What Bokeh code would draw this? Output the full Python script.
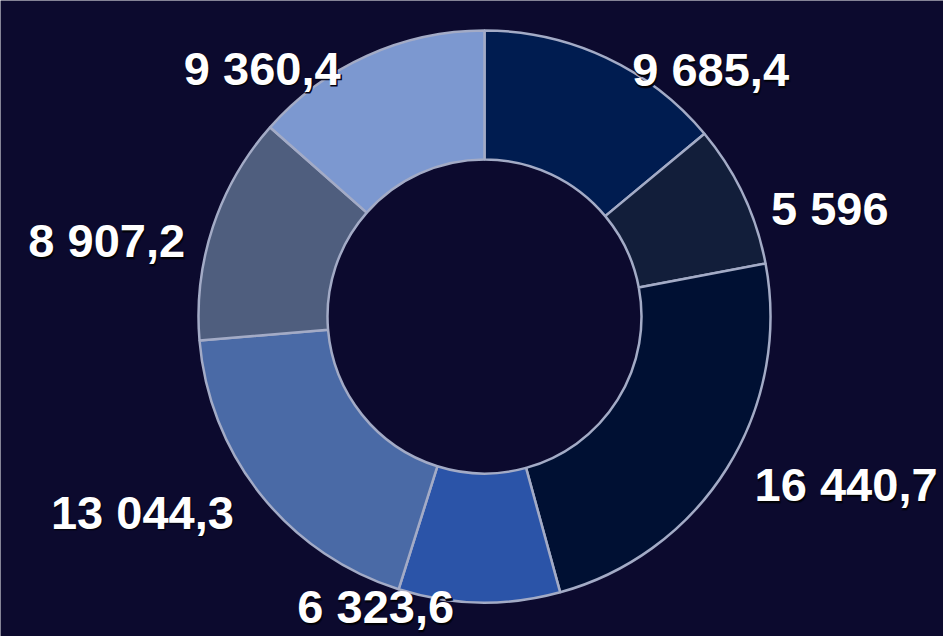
import math
from bokeh.plotting import figure
from bokeh.models import ColumnDataSource, Range1d
from bokeh.core.properties import value
from bokeh.embed import file_html
from bokeh.resources import INLINE

# ---- data ----
values = [9685.4, 5596, 16440.7, 6323.6, 13044.3, 8907.2, 9360.4]
colors = ["#001c50", "#121e3a", "#001033", "#2b54a8", "#4a6aa6", "#4f5e7e", "#7c98d0"]

BG = "#0c0a2e"
W, H = 943, 636
CX, CY = 484, 320          # centre in plot coordinates (y up)
R_OUT, R_IN = 286, 157
LABEL_R, PAD, YOFF = 289, 25, 15
LABEL_MIN_Y = 30           # keep labels inside the plot


def fmt(v):
    s = f"{v:,.1f}"
    if s.endswith(".0"):
        s = s[:-2]
    return s.replace(",", " ").replace(".", ",")


total = sum(values)
starts, ends, lx, ly, aligns, texts = [], [], [], [], [], []
cum = 0.0
for v in values:
    a0 = cum / total * 2 * math.pi
    cum += v
    a1 = cum / total * 2 * math.pi
    starts.append(math.pi / 2 - a0)
    ends.append(math.pi / 2 - a1)
    mid = (a0 + a1) / 2
    dy = LABEL_R * math.cos(mid)              # upward offset of anchor
    dx = math.sqrt(max(LABEL_R ** 2 - dy ** 2, 0)) + PAD
    left = mid > math.pi
    lx.append(CX - dx if left else CX + dx)
    ly.append(max(CY + dy - YOFF, LABEL_MIN_Y))
    aligns.append("right" if left else "left")
    texts.append(fmt(v))

wedges = ColumnDataSource(dict(start=starts, end=ends, color=colors))
labels = ColumnDataSource(dict(x=lx, y=ly, text=texts, align=aligns))

p = figure(width=W, height=H, output_backend="svg", toolbar_location=None,
           x_range=Range1d(0, W), y_range=Range1d(0, H),
           min_border=0, background_fill_color=BG, border_fill_color=BG)
p.axis.visible = False
p.grid.visible = False
p.outline_line_color = None

p.annular_wedge(x=CX, y=CY, inner_radius=R_IN, outer_radius=R_OUT,
                start_angle="start", end_angle="end", direction="clock",
                fill_color="color", line_color="#a3abc6", line_width=2.5,
                source=wedges)

common = dict(x="x", y="y", text="text", source=labels,
              text_align="align", text_baseline="middle",
              text_font=value("Liberation Sans"), text_font_style="bold",
              text_font_size="47px")
# dark halo under the labels
p.text(text_color="#000000", text_outline_color="#05051a", x_offset=1, y_offset=1.5,
       **common)
p.text(text_color="#ffffff", **common)

open("out.html", "w").write(file_html(p, INLINE))
